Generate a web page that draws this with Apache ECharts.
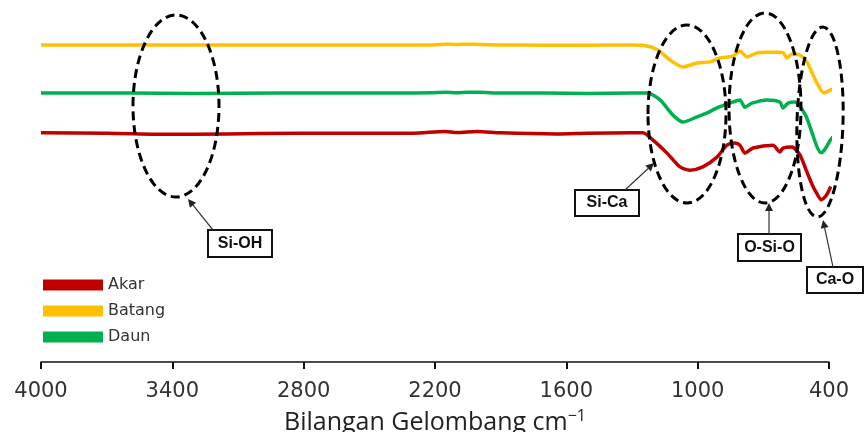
<!DOCTYPE html>
<html>
<head>
<meta charset="utf-8">
<title>FTIR</title>
<style>
  html, body { margin: 0; padding: 0; background: #fff; }
  #chart { width: 866px; height: 432px; }
</style>
</head>
<body>
<div id="chart"></div>
<script src="https://cdn.jsdelivr.net/npm/echarts@6/dist/echarts.min.js"></script>
<script>
// wavenumber ticks (cm-1)
var tickValues = [4000, 3400, 2800, 2200, 1600, 1000, 400];

// Batang (yellow)
var batangWn = [4000, 3600, 3300, 2900, 2400, 2210, 2150, 2100, 2050, 2000, 1900, 1700, 1500, 1300, 1250,
  1181, 1126, 1067, 1003, 944, 898, 839, 807, 775, 729, 680, 638, 610, 592, 569, 533, 501, 473, 450, 423, 395, 359];
var batangT = [87.6, 87.6, 87.6, 87.6, 87.6, 87.6, 87.8, 87.7, 87.8, 87.7, 87.6, 87.5, 87.5, 87.6, 87.5,
  86.2, 83.4, 81.5, 82.6, 82.9, 84.0, 84.5, 85.9, 84.3, 85.4, 85.6, 85.6, 85.4, 84.0, 85.1, 84.8, 82.9, 79.3, 76.5, 74.3, 75.1, 76.2];

// Daun (green)
var daunWn = [4000, 3600, 3300, 2900, 2400, 2210, 2150, 2100, 2050, 2000, 1900, 1700, 1500, 1300, 1231,
  1172, 1113, 1067, 1003, 957, 912, 852, 807, 784, 752, 683, 624, 610, 587, 555, 510, 487, 455, 436, 418, 395, 382];
var daunT = [74.3, 74.3, 74.2, 74.3, 74.3, 74.4, 74.5, 74.4, 74.5, 74.5, 74.3, 74.3, 74.2, 74.3, 74.3,
  72.4, 68.2, 66.3, 67.7, 68.8, 70.2, 71.5, 72.4, 70.4, 71.5, 72.4, 71.8, 70.2, 71.5, 71.8, 68.5, 65.0, 59.5, 57.8, 58.8, 61.2, 62.2];

// Akar (red)
var akarWn = [4000, 3700, 3400, 3300, 3000, 2600, 2300, 2154, 2100, 2008, 1900, 1643, 1500, 1300, 1250,
  1204, 1140, 1081, 1035, 976, 912, 866, 830, 807, 784, 747, 656, 624, 610, 569, 533, 501, 473, 455, 436, 418, 405, 392];
var akarT = [63.3, 63.2, 62.9, 62.9, 63.1, 63.2, 63.2, 63.7, 63.4, 63.7, 63.3, 63.0, 63.2, 63.3, 63.3,
  61.3, 57.7, 53.9, 53.0, 53.9, 56.6, 59.9, 60.5, 59.9, 57.7, 59.1, 59.9, 58.0, 59.1, 59.4, 57.2, 52.5, 48.5, 46.5, 44.8, 45.6, 46.8, 48.5];

function zip(xs, ys) {
  return xs.map(function (x, i) { return [x, ys[i]]; });
}

function arrow(x1, y1, x2, y2) {
  var a = Math.atan2(y2 - y1, x2 - x1), L = 8, W = 4;
  var bx = x2 - L * Math.cos(a), by = y2 - L * Math.sin(a);
  return [
    { type: 'line', shape: { x1: x1, y1: y1, x2: bx, y2: by }, style: { stroke: '#333', lineWidth: 1.2 } },
    { type: 'polygon', shape: { points: [[x2, y2],
        [bx + W * Math.sin(a), by - W * Math.cos(a)],
        [bx - W * Math.sin(a), by + W * Math.cos(a)]] }, style: { fill: '#222' } }
  ];
}

function ellipse(cx, cy, rx, ry, rot) {
  return { type: 'ellipse', rotation: rot || 0, originX: cx, originY: cy, shape: { cx: cx, cy: cy, rx: rx, ry: ry },
    style: { fill: 'none', stroke: '#000', lineWidth: 3, lineDash: [9, 5] }, z: 10 };
}

function labelBox(x, y, w, h, text) {
  return { type: 'group', z: 12, children: [
    { type: 'rect', shape: { x: x, y: y, width: w, height: h }, style: { fill: '#fff', stroke: '#111', lineWidth: 2 } },
    { type: 'text', x: x + w / 2, y: y + h / 2, style: { text: text, font: 'bold 16px "Liberation Sans", sans-serif',
      fill: '#111', align: 'center', verticalAlign: 'middle' } }
  ] };
}

var graphics = [
  ellipse(176, 106, 43, 91),
  ellipse(687, 114, 39, 89),
  ellipse(765, 108, 36, 95),
  ellipse(820, 122, 23, 95, -0.03),
  labelBox(208, 230, 64, 27, 'Si-OH'),
  labelBox(575, 190, 64, 26, 'Si-Ca'),
  labelBox(738, 234, 63, 27, 'O-Si-O'),
  labelBox(807, 267, 56, 26, 'Ca-O')
].concat(arrow(213, 230, 188, 199), arrow(625, 190, 654, 163), arrow(769, 234, 769, 203), arrow(833, 267, 823, 220));

var chart = echarts.init(document.getElementById('chart'), null, { renderer: 'canvas' });
chart.setOption({
  animation: false,
  backgroundColor: '#fff',
  grid: { left: 41, right: 37, top: 0, bottom: 70, outerBoundsMode: 'none', containLabel: false },
  legend: {
    orient: 'vertical', left: 38, top: 272,
    data: ['Akar', 'Batang', 'Daun'],
    icon: 'rect', itemWidth: 60, itemHeight: 11, itemGap: 10,
    textStyle: { fontFamily: 'DejaVu Sans', fontSize: 16, color: '#333', lineHeight: 11 }
  },
  xAxis: {
    type: 'value', inverse: true, min: 400, max: 4000,
    name: 'Bilangan Gelombang {s|cm}{sup|\u22121}', nameLocation: 'middle', nameGap: 46,
    nameTextStyle: { fontFamily: 'Open Sans', fontSize: 25, color: '#222',
      rich: { s: { fontFamily: 'Open Sans', fontSize: 25, color: '#222' },
              sup: { fontFamily: 'Open Sans', fontSize: 16, color: '#222', verticalAlign: 'top', padding: [0, 0, 14, 0] } } },
    splitLine: { show: false },
    axisLine: { lineStyle: { color: '#111', width: 1.5 } },
    axisTick: { customValues: tickValues, length: 7, lineStyle: { color: '#111', width: 2 } },
    axisLabel: { customValues: tickValues, margin: 19, fontFamily: 'DejaVu Sans', fontSize: 21, color: '#333',
      formatter: function (v) { return String(v); } }
  },
  yAxis: { type: 'value', min: 0, max: 100, show: false },
  series: [
    { name: 'Akar', type: 'line', data: zip(akarWn, akarT), color: '#C00000' },
    { name: 'Batang', type: 'line', data: zip(batangWn, batangT), color: '#FFC000' },
    { name: 'Daun', type: 'line', data: zip(daunWn, daunT), color: '#00B050' }
  ].map(function (s) {
    s.showSymbol = false; s.symbol = 'none'; s.clip = false; s.smooth = 0.25;
    s.lineStyle = { width: 3.5, color: s.color, join: 'round' };
    return s;
  }),
  graphic: graphics
});
</script>
</body>
</html>
